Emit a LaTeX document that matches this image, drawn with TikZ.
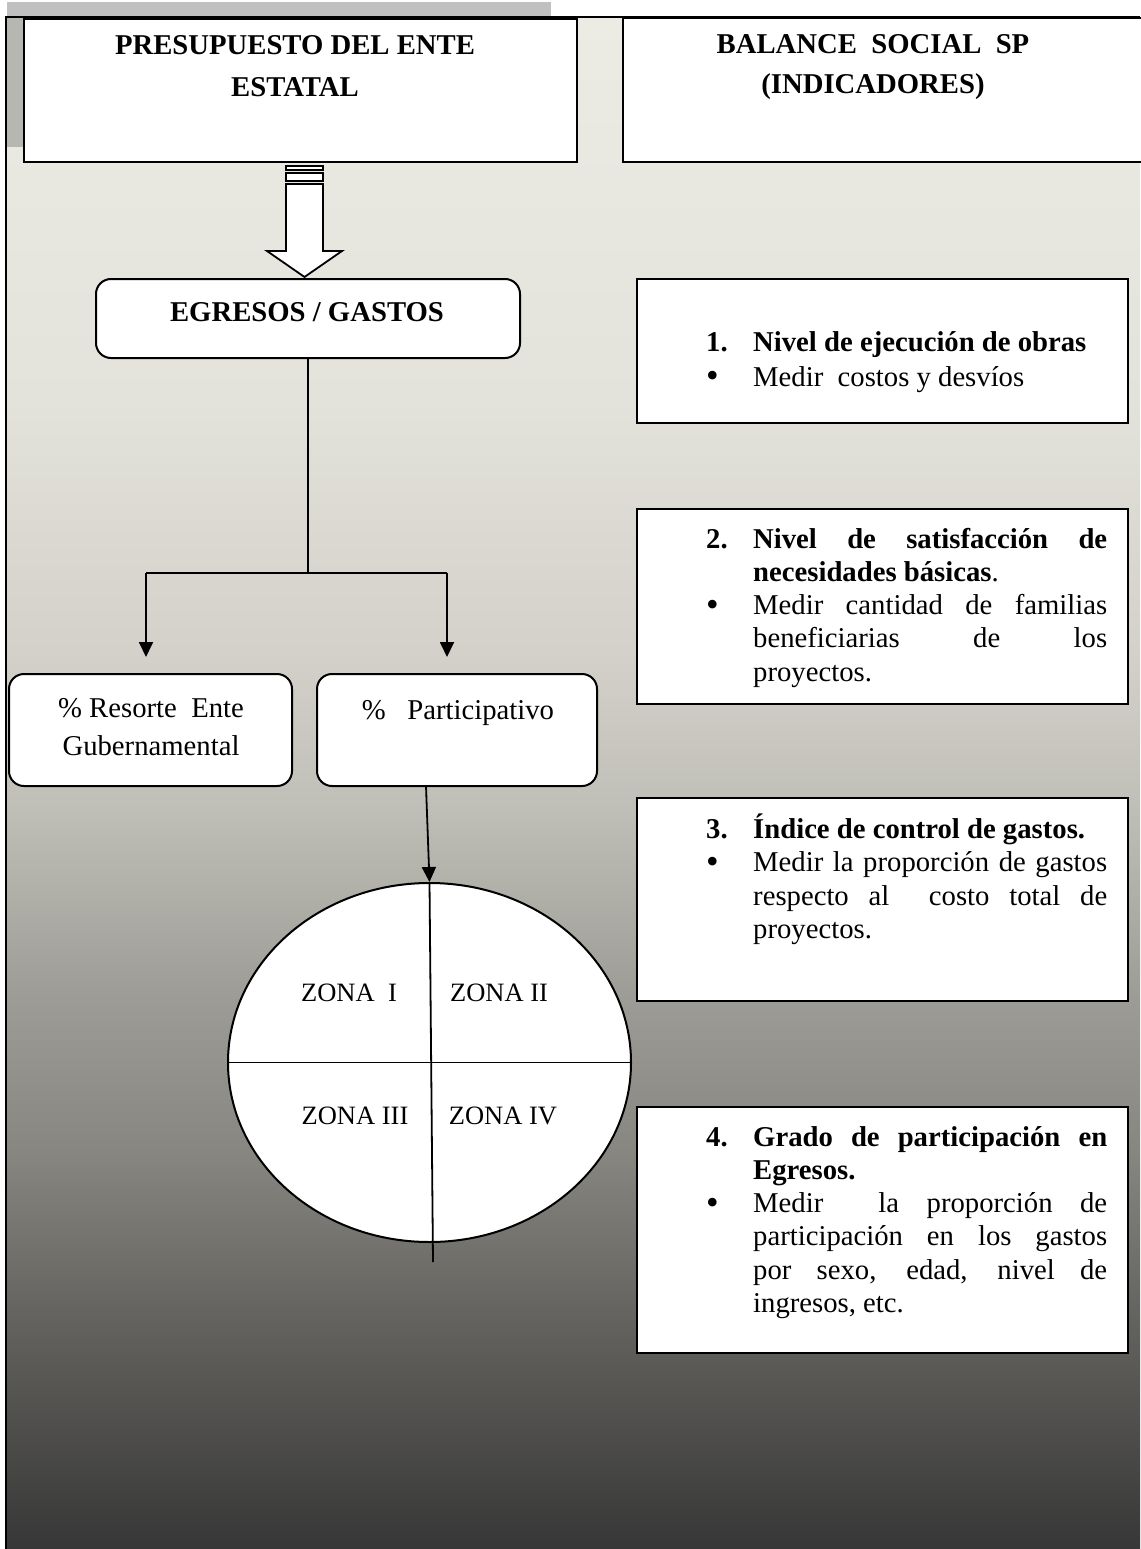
\documentclass[tikz,border=0pt]{standalone}
\usepackage{fontspec}
\setmainfont{Liberation Serif}
\usetikzlibrary{arrows.meta,shapes.geometric}
\definecolor{c0}{HTML}{ECEBE4}
\definecolor{c1}{HTML}{E3E2DB}
\definecolor{c2}{HTML}{D3D1C9}
\definecolor{c3}{HTML}{C1C0B8}
\definecolor{c4}{HTML}{9C9B95}
\definecolor{c5}{HTML}{878681}
\definecolor{c6}{HTML}{676662}
\definecolor{c7}{HTML}{373737}
\definecolor{bandgray}{HTML}{C0C0C0}
\definecolor{stripgray}{HTML}{B7B7B2}
\pgfdeclareverticalshading{panelshade}{100bp}{color(0bp)=(c7); color(25bp)=(c7); color(33.1bp)=(c6); color(38bp)=(c5); color(42.9bp)=(c4); color(49.4bp)=(c3); color(54.3bp)=(c2); color(62.5bp)=(c1); color(75bp)=(c0); color(100bp)=(c0)}
\newcommand{\jline}[1]{\makebox[354pt][s]{#1}}
\newcommand{\numcol}[1]{\makebox[47pt][l]{#1}}
\newcommand{\bigbul}{\raisebox{-1.5pt}{\fontsize{36}{34}\selectfont\textbullet}}
\begin{document}
\begin{tikzpicture}[x=1pt,y=-1pt,
  box/.style={draw=black, line width=2pt, fill=white, inner sep=0pt},
  rbox/.style={box, rounded corners=15pt},
  ttl/.style={font=\fontsize{28.7}{34}\selectfont\bfseries, inner sep=0pt, anchor=base},
  txt/.style={font=\fontsize{28.7}{34}\selectfont, inner sep=0pt},
  itm/.style={txt, anchor=base west},
  zone/.style={font=\fontsize{26.5}{30}\selectfont, inner sep=0pt, anchor=base},
  conn/.style={line width=1.8pt},
  arr/.style={conn, -{Triangle[length=15pt,width=14pt]}}]

\useasboundingbox (0,0) rectangle (1140,1549);
% background
\fill[bandgray] (7,2) rectangle (551,16);
\shade[shading=panelshade] (6,17) rectangle (1140,1549);
\fill[stripgray] (7,17) rectangle (23,147);
\draw[line width=2pt] (6,1549) -- (6,17) -- (1140,17);

% header boxes
\node[box, minimum width=553pt, minimum height=143pt] (pres) at (300.5,90.5) {};
\node[box, minimum width=537pt, minimum height=144pt] (bal) at (891.5,90) {};
\node[ttl] (t1a) at (295,55) {PRESUPUESTO DEL ENTE};
\node[ttl] (t1b) at (295,97) {ESTATAL};
\node[ttl] (t2a) at (873,54) {BALANCE\ \ SOCIAL\ \ SP};
\node[ttl] (t2b) at (873,94) {(INDICADORES)};

% block arrow
\draw[line width=1.8pt, fill=white] (286,166) rectangle (323,170);
\draw[line width=1.8pt, fill=white] (286,173) rectangle (323,181);
\draw[line width=1.8pt, fill=white, line join=miter]
  (286,184) -- (323,184) -- (323,251) -- (342,251) -- (304.5,277)
  -- (267,251) -- (286,251) -- cycle;

% left flow
\node[rbox, minimum width=424pt, minimum height=79pt] (eg) at (308,318.5) {};
\node[ttl] (egt) at (307,321) {EGRESOS / GASTOS};

\node[rbox, minimum width=283pt, minimum height=112pt] (res) at (150.5,730) {};
\node[txt, anchor=base] (rs1) at (151,717) {\%\ Resorte\ \ Ente};
\node[txt, anchor=base] (rs2) at (151,755) {Gubernamental};

\node[rbox, minimum width=280pt, minimum height=112pt] (par) at (457,730) {};
\node[txt, anchor=base] (pt1) at (458,719) {\%\ \ \ Participativo};

\coordinate (jn) at (308,573);
\coordinate (jl) at (146,573);
\coordinate (jr) at (447,573);
\coordinate (tl) at (146,657);
\coordinate (tr) at (447,657);
\draw[conn] (eg.south) -- (jn);
\draw[conn] (jl) -- (jr);
\draw[arr] (jl) -- (tl);
\draw[arr] (jr) -- (tr);

% ellipse
\node[draw, ellipse, line width=2pt, fill=white, minimum width=403pt, minimum height=359pt, inner sep=0pt] (ell) at (429.5,1062.5) {};
\coordinate (ps) at (426,786);
\coordinate (vb) at (433,1262);
\draw[arr] (ps) -- (ell.north);
\draw[conn] (ell.west) -- (ell.east);
\draw[conn] (ell.north) -- (vb);
\node[zone] (z1) at (349,1001) {ZONA\ \ I};
\node[zone] (z2) at (499,1001) {ZONA II};
\node[zone] (z3) at (355,1124) {ZONA III};
\node[zone] (z4) at (503,1124) {ZONA IV};

% right boxes
\node[box, minimum width=491pt, minimum height=144pt] (r1) at (882.5,351) {};
\node[box, minimum width=491pt, minimum height=195pt] (r2) at (882.5,606.5) {};
\node[box, minimum width=491pt, minimum height=203pt] (r3) at (882.5,899.5) {};
\node[box, minimum width=491pt, minimum height=246pt] (r4) at (882.5,1230) {};

\node[itm] (a1) at (706,351.5) {\numcol{\textbf{1.}}\textbf{Nivel de ejecución de obras}};
\node[itm] (a2) at (706,386) {\numcol{\bigbul}Medir\ \ costos y desvíos};

\node[itm] (b1) at (706,548) {\numcol{\textbf{2.}}\jline{\textbf{Nivel de satisfacción de}}};
\node[itm] (b2) at (753,581.3) {\textbf{necesidades básicas}.};
\node[itm] (b3) at (706,614.6) {\numcol{\bigbul}\jline{Medir cantidad de familias}};
\node[itm] (b4) at (753,647.9) {\jline{beneficiarias de los}};
\node[itm] (b5) at (753,681.2) {proyectos.};

\node[itm] (c1n) at (706,838.5) {\numcol{\textbf{3.}}\textbf{Índice de control de gastos.}};
\node[itm] (c2n) at (706,871.8) {\numcol{\bigbul}\jline{Medir la proporción de gastos}};
\node[itm] (c3n) at (753,905.1) {\jline{respecto al\ \ costo total de}};
\node[itm] (c4n) at (753,938.4) {proyectos.};

\node[itm] (d1) at (706,1146) {\numcol{\textbf{4.}}\jline{\textbf{Grado de participación en}}};
\node[itm] (d2) at (753,1179.3) {\textbf{Egresos.}};
\node[itm] (d3) at (706,1212.6) {\numcol{\bigbul}\jline{Medir\ \ la proporción de}};
\node[itm] (d4) at (753,1245.9) {\jline{participación en los gastos}};
\node[itm] (d5) at (753,1279.2) {\jline{por sexo, edad, nivel de}};
\node[itm] (d6) at (753,1312.5) {ingresos, etc.};
\end{tikzpicture}
\end{document}
